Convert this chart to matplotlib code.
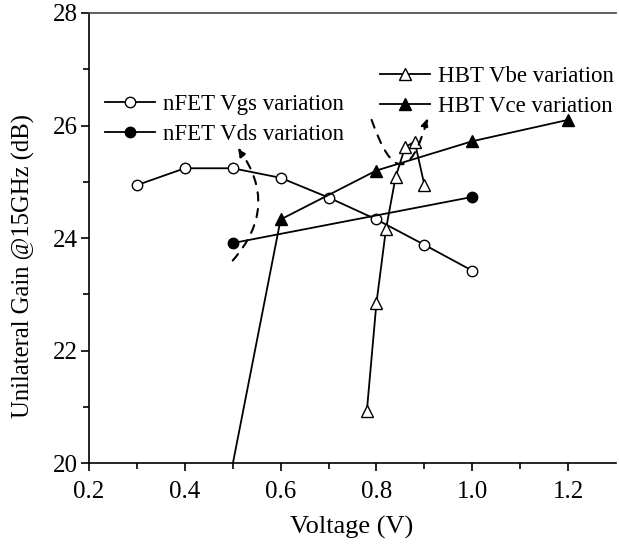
import matplotlib.pyplot as plt
import numpy as np

plt.rcParams['font.family'] = ['Liberation Serif', 'DejaVu Serif']
plt.rcParams['mathtext.fontset'] = 'stix'

# nFET Vgs variation (open circles)
vgs_x = [0.3, 0.4, 0.5, 0.6, 0.7, 0.8, 0.9, 1.0]
vgs_y = [24.94, 25.24, 25.24, 25.07, 24.72, 24.33, 23.88, 23.42]

# nFET Vds variation (filled circles)
vds_x = [0.5, 1.0]
vds_y = [23.91, 24.73]

# HBT Vbe variation (open triangles)
vbe_x = [0.78, 0.80, 0.82, 0.84, 0.86, 0.88, 0.90]
vbe_y = [20.92, 22.84, 24.16, 25.08, 25.62, 25.71, 24.95]

# HBT Vce variation (filled triangles), first point sits at the bottom edge
vce_x = [0.5, 0.6, 0.8, 1.0, 1.2]
vce_y = [19.98, 24.33, 25.2, 25.72, 26.1]

fig = plt.figure(figsize=(6.19, 5.48), dpi=100)
ax = fig.add_axes([0.1438, 0.155, 0.8512, 0.8213])

lw = 1.3
l1, = ax.plot(vgs_x, vgs_y, color='black', lw=lw, marker='o', ms=7.5,
              mfc='white', mec='black', mew=1.0, label='nFET Vgs variation')
l2, = ax.plot(vds_x, vds_y, color='black', lw=lw, marker='o', ms=7.5,
              mfc='black', mec='black', label='nFET Vds variation')
l3, = ax.plot(vbe_x, vbe_y, color='black', lw=lw, marker='^', ms=9,
              mfc='white', mec='black', mew=1.0, label='HBT Vbe variation')
l4, = ax.plot(vce_x, vce_y, color='black', lw=lw, marker='^', ms=9,
              mfc='black', mec='black', markevery=slice(1, None),
              label='HBT Vce variation')

# dashed curved arrows
ax.annotate('', xy=(0.511, 25.6), xytext=(0.5, 23.6),
            arrowprops=dict(arrowstyle='-|>', color='black', lw=1.5,
                            linestyle=(0, (4, 4)), mutation_scale=12,
                            connectionstyle='arc3,rad=0.4',
                            shrinkA=0, shrinkB=0))
ax.annotate('', xy=(0.907, 26.13), xytext=(0.79, 26.1),
            arrowprops=dict(arrowstyle='-|>', color='black', lw=1.5,
                            linestyle=(0, (4, 4)), mutation_scale=12,
                            connectionstyle='arc3,rad=1.6',
                            shrinkA=0, shrinkB=0))

ax.set_xlim(0.2, 1.3)
ax.set_ylim(20, 28)
ax.set_xticks([0.2, 0.4, 0.6, 0.8, 1.0, 1.2])
ax.set_xticks(np.arange(0.3, 1.3, 0.2), minor=True)
ax.set_yticks([20, 22, 24, 26, 28])
ax.set_yticks([21, 23, 25, 27], minor=True)
ax.tick_params(which='major', direction='out', length=6, width=1.2, labelsize=18)
ax.tick_params(axis='x', which='major', pad=7)
ax.tick_params(axis='y', which='major', pad=2)
ax.tick_params(which='minor', direction='out', length=4, width=1.2)
ax.spines['right'].set_visible(False)
for s in ['left', 'bottom', 'top']:
    ax.spines[s].set_linewidth(1.2)
ax.spines['top'].set_color('#444444')

ax.set_xlabel('Voltage (V)', fontsize=19)
ax.xaxis.set_label_coords(0.499, -0.118)
ax.set_ylabel('Unilateral Gain @15GHz (dB)', fontsize=17.7)
ax.yaxis.set_label_coords(-0.1025, 0.438)

leg1 = fig.legend(handles=[l1, l2], loc='upper left',
                  bbox_to_anchor=(0.1696, 0.8285), frameon=False, fontsize=16.5,
                  handlelength=2.18, handletextpad=0.35, labelspacing=0.37,
                  borderpad=0, borderaxespad=0)
leg2 = fig.legend(handles=[l3, l4], loc='upper left',
                  bbox_to_anchor=(0.614, 0.8796), frameon=False, fontsize=16.5,
                  handlelength=2.18, handletextpad=0.35, labelspacing=0.37,
                  borderpad=0, borderaxespad=0)

fig.savefig('out.png', dpi=100)
